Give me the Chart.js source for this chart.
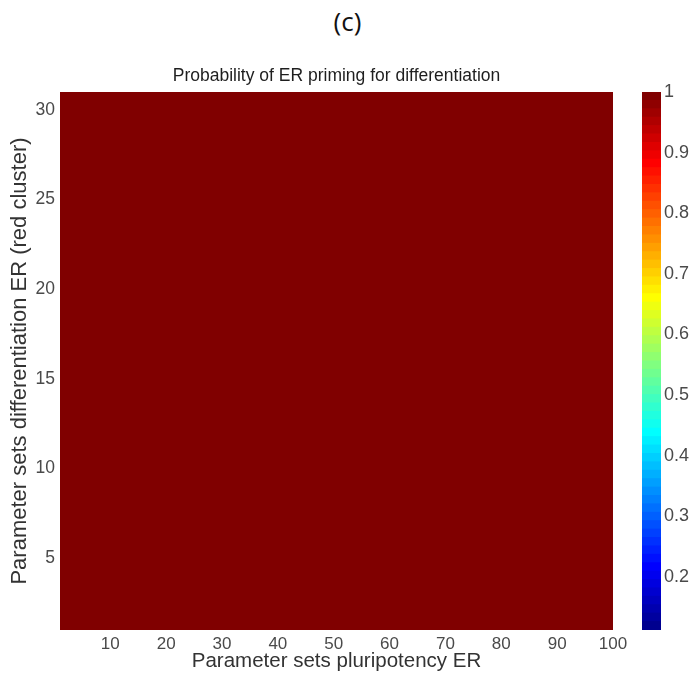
<!DOCTYPE html>
<html>
<head>
<meta charset="utf-8">
<script src="https://cdn.jsdelivr.net/npm/chart.js@4.4.1/dist/chart.umd.min.js"></script>
<style>
  html, body { margin: 0; padding: 0; background: #fff; }
  #page { position: relative; width: 695px; height: 675px; overflow: hidden; }
  #panel { position: absolute; left: 0; top: 3px; width: 695px; text-align: center;
           font: 26px 'Open Sans', sans-serif; color: #111; }
  #heat { position: absolute; left: 0; top: 0; }
  #cbar { position: absolute; left: 630px; top: 0; }
</style>
</head>
<body>
<div id="page">
  <div id="panel">(c)</div>
  <canvas id="heat" width="673" height="675"></canvas>
  <canvas id="cbar" width="65" height="675"></canvas>
</div>
<script>
// Parameter set indices on each axis
const pluriSets = Array.from({ length: 100 }, (_, i) => i + 1);
const diffSets = Array.from({ length: 30 }, (_, i) => i + 1);

// Probability per cell: every cell reads as 1 (uniform dark red), same for all 30 rows
const probRow = [
  1, 1, 1, 1, 1, 1, 1, 1, 1, 1,
  1, 1, 1, 1, 1, 1, 1, 1, 1, 1,
  1, 1, 1, 1, 1, 1, 1, 1, 1, 1,
  1, 1, 1, 1, 1, 1, 1, 1, 1, 1,
  1, 1, 1, 1, 1, 1, 1, 1, 1, 1,
  1, 1, 1, 1, 1, 1, 1, 1, 1, 1,
  1, 1, 1, 1, 1, 1, 1, 1, 1, 1,
  1, 1, 1, 1, 1, 1, 1, 1, 1, 1,
  1, 1, 1, 1, 1, 1, 1, 1, 1, 1,
  1, 1, 1, 1, 1, 1, 1, 1, 1, 1
];

// Tick labels
const xTicks = [10, 20, 30, 40, 50, 60, 70, 80, 90, 100];
const yTicks = [5, 10, 15, 20, 25, 30];
const colorTicks = [0.2, 0.3, 0.4, 0.5, 0.6, 0.7, 0.8, 0.9, 1];

// Colour limits
const colorMin = 0.1125;
const colorMax = 1;

const FONT = "'Liberation Sans', Arial, Helvetica, sans-serif";
const TICK_COLOR = '#4a4a4a';

// MATLAB style jet(m)
function jetMap(m) {
  const n = Math.ceil(m / 4);
  const u = [];
  for (let i = 1; i <= n; i++) u.push(i / n);
  for (let i = 1; i < n; i++) u.push(1);
  for (let i = n; i >= 1; i--) u.push(i / n);
  const g0 = Math.ceil(n / 2) - (m % 4 === 1 ? 1 : 0);
  const J = Array.from({ length: m }, () => [0, 0, 0]);
  u.forEach((val, k) => {
    const g = g0 + k + 1;
    if (g + n <= m) J[g + n - 1][0] = val;
    if (g <= m) J[g - 1][1] = val;
    if (g - n >= 1) J[g - n - 1][2] = val;
  });
  return J.map(c => `rgb(${Math.round(c[0] * 255)},${Math.round(c[1] * 255)},${Math.round(c[2] * 255)})`);
}
const jet = jetMap(64);

function colorFor(v) {
  let idx = Math.floor((v - colorMin) / (colorMax - colorMin) * jet.length);
  idx = Math.max(0, Math.min(jet.length - 1, idx));
  return jet[idx];
}

// Heatmap: one dataset per row, floating bars spanning each cell
const heatDatasets = diffSets.map(row => ({
  data: pluriSets.map(col => ({ x: col + 0.5, y: [row, row + 1] })),
  backgroundColor: pluriSets.map((col, i) => colorFor(probRow[i])),
  borderWidth: 0,
  inflateAmount: 0.8,
  barPercentage: 1,
  categoryPercentage: 1,
  clip: 0
}));

new Chart(document.getElementById('heat'), {
  type: 'bar',
  data: { datasets: heatDatasets },
  options: {
    responsive: false,
    animation: false,
    layout: { padding: 0 },
    plugins: {
      legend: { display: false },
      tooltip: { enabled: false },
      title: {
        display: true,
        text: 'Probability of ER priming for differentiation',
        color: '#1e1e1e',
        font: { family: FONT, size: 17.5, weight: 'normal' },
        padding: { top: 65.5, bottom: 5.5 }
      }
    },
    scales: {
      x: {
        type: 'linear',
        min: 1,
        max: 100,
        offset: false,
        stacked: true,
        grid: { display: false, drawTicks: false, offset: false },
        border: { display: false },
        afterBuildTicks: s => { s.ticks = xTicks.map(v => ({ value: v })); },
        ticks: { autoSkip: false, maxRotation: 0, padding: 4, color: TICK_COLOR,
                 font: { family: FONT, size: 17 } },
        title: { display: true, text: 'Parameter sets pluripotency ER', color: '#333',
                 font: { family: FONT, size: 20.5 }, padding: { top: 0, bottom: 1 } },
        afterFit: s => { s.height = 45; s.paddingLeft = 0; s.paddingRight = 0; }
      },
      y: {
        type: 'linear',
        min: 1,
        max: 31,
        stacked: false,
        grid: { display: false, drawTicks: false },
        border: { display: false },
        afterBuildTicks: s => { s.ticks = yTicks.map(v => ({ value: v })); },
        ticks: { autoSkip: false, padding: 5, color: TICK_COLOR,
                 font: { family: FONT, size: 17.5 } },
        title: { display: true, text: 'Parameter sets differentiation ER (red cluster)', color: '#333',
                 font: { family: FONT, size: 22 }, padding: { top: 7, bottom: 0 } },
        afterFit: s => { s.width = 60; s.paddingTop = 0; s.paddingBottom = 0; }
      },
      yRight: {
        position: 'right',
        display: true,
        grid: { display: false, drawTicks: false },
        border: { display: false },
        ticks: { display: false },
        afterFit: s => { s.width = 60; s.paddingTop = 0; s.paddingBottom = 0; }
      }
    }
  }
});

// Colour bar: 64 jet bands stacked over the colour limits
const cbarDatasets = jet.map((c, i) => ({
  data: [[colorMin + (colorMax - colorMin) * i / jet.length,
          colorMin + (colorMax - colorMin) * (i + 1) / jet.length]],
  backgroundColor: c,
  borderWidth: 0,
  inflateAmount: 0.5,
  barPercentage: 1,
  categoryPercentage: 1
}));

new Chart(document.getElementById('cbar'), {
  type: 'bar',
  data: { labels: [''], datasets: cbarDatasets },
  options: {
    responsive: false,
    animation: false,
    layout: { padding: { left: 12, top: 92, bottom: 45, right: 0 } },
    plugins: { legend: { display: false }, tooltip: { enabled: false } },
    scales: {
      x: { display: false, stacked: true },
      y: {
        position: 'right',
        min: colorMin,
        max: colorMax,
        stacked: false,
        grid: { display: false, drawTicks: false },
        border: { display: false },
        afterBuildTicks: s => { s.ticks = colorTicks.map(v => ({ value: v })); },
        ticks: { autoSkip: false, padding: 3, color: TICK_COLOR,
                 font: { family: FONT, size: 18 },
                 callback: v => String(Number(v.toFixed(2))) },
        afterFit: s => { s.width = 34; s.paddingTop = 0; s.paddingBottom = 0; }
      }
    }
  }
});
</script>
</body>
</html>
